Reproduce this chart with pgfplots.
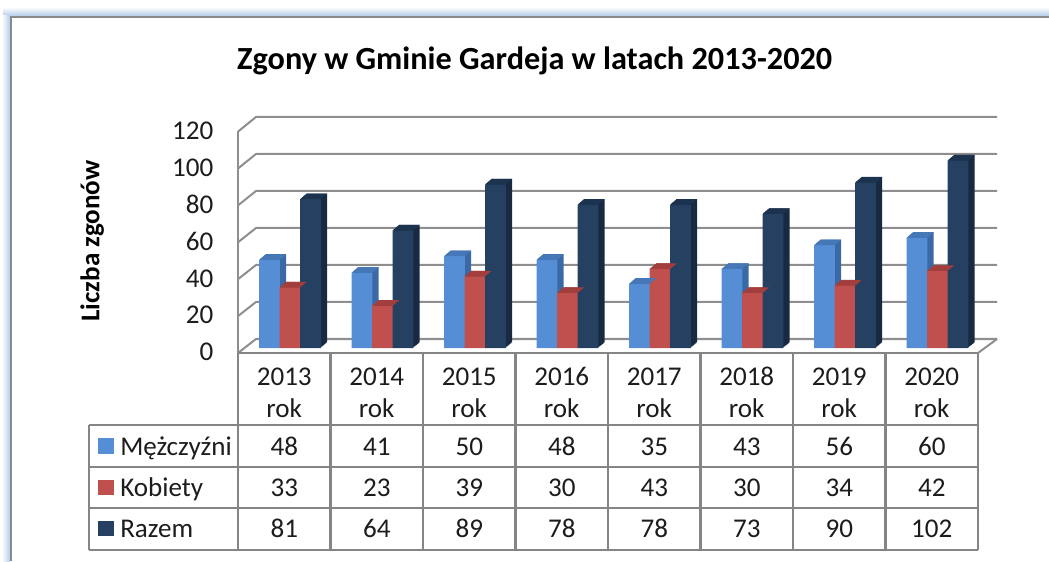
\documentclass[border=0pt]{standalone}
\usepackage{fontspec}
\setmainfont{Carlito}
\usepackage{pgfplots}
\usepackage{pgfplotstable}
\pgfplotsset{compat=1.18}

\definecolor{menF}{HTML}{558ED5}
\definecolor{menS}{HTML}{3A69A6}
\definecolor{menT}{HTML}{4678B8}
\definecolor{womF}{HTML}{C0504D}
\definecolor{womS}{HTML}{8F3634}
\definecolor{womT}{HTML}{A23E3B}
\definecolor{allF}{HTML}{254061}
\definecolor{allS}{HTML}{172A42}
\definecolor{allT}{HTML}{1C3350}
\definecolor{gridc}{HTML}{8E8E8E}
\definecolor{tabc}{HTML}{858585}
\definecolor{txt}{HTML}{1C1C1C}
\definecolor{glow}{HTML}{B4CCE8}
\definecolor{framec}{HTML}{8A8A8A}

\pgfplotstableread{
year men wom all
2013 48 33 81
2014 41 23 64
2015 50 39 89
2016 48 30 78
2017 35 43 78
2018 43 30 73
2019 56 34 90
2020 60 42 102
}\deaths

% top face of a bar, px = 0.75pt
\pgfdeclareplotmark{bartop}{%
  \pgfpathmoveto{\pgfqpoint{-7.69pt}{0pt}}%
  \pgfpathlineto{\pgfqpoint{7.69pt}{0pt}}%
  \pgfpathlineto{\pgfqpoint{12.5pt}{4.1pt}}%
  \pgfpathlineto{\pgfqpoint{-2.9pt}{4.1pt}}%
  \pgfpathclose
  \pgfusepathqfill
}

% series: column, shift, front, side, top
\newcommand{\barseries}[5]{%
  \pgfplotsinvokeforeach{1,2,3,4,5,6,7}{%
    \addplot[ybar, bar width=15.4pt, bar shift=#2pt, draw=none, fill=#4,
      xshift=##1*0.69pt, yshift=##1*0.59pt]
      table[x expr=\coordindex, y=#1] {\deaths};
  }
  \addplot[only marks, mark=bartop, mark options={fill=#5, draw=none, xshift=#2pt}]
    table[x expr=\coordindex, y=#1] {\deaths};
  \addplot[ybar, bar width=15.4pt, bar shift=#2pt, draw=none, fill=#3]
    table[x expr=\coordindex, y=#1] {\deaths};
}

\tikzset{cell/.style={text=txt, text height=13pt, text depth=0pt, font=\fontsize{20.3}{20}\selectfont}}

\begin{document}
\begin{tikzpicture}
\begin{scope}[x=0.75pt, y=-0.75pt, yshift=420.75pt]
  \path[use as bounding box] (0,0) rectangle (1049,561);
  % window frame
  \shade[top color=white, bottom color=glow] (3,7) rectangle (1049,16);
  \shade[left color=white, right color=glow] (2,16) rectangle (10,561);
  \draw[framec, line width=2pt] (1049,17) -- (11,17) -- (11,561);

  % walls and floor
  \foreach \v in {0,20,...,120} {
    \draw[gridc, line width=1.5pt]
      (238,{353-1.845*\v}) -- (256,{339-1.85*\v}) -- (997,{339-1.85*\v});
  }
  \draw[gridc, line width=1.5pt] (238,131) -- (238,353);
  \draw[gridc, line width=1.5pt] (997,339) -- (978,353);

  % table rules
  \draw[tabc, line width=1.7pt] (89,425) -- (978,425);
  \draw[tabc, line width=1.7pt] (89,467) -- (978,467);
  \draw[tabc, line width=1.7pt] (89,508) -- (978,508);
  \draw[tabc, line width=1.7pt] (89,550) -- (978,550);
  \draw[tabc, line width=1.7pt] (238,353) -- (978,353);
  \draw[tabc, line width=1.7pt] (89,425) -- (89,550);
  \foreach \i in {0,...,8} {
    \draw[tabc, line width=1.7pt] ({238+92.5*\i},353) -- ({238+92.5*\i},550);
  }

  % table row heads
  \fill[menF] (98,438) rectangle (114,454);
  \fill[womF] (98,480) rectangle (114,495);
  \fill[allF] (98,521) rectangle (114,536);
  \node[cell, anchor=west, inner sep=0pt] at (120,447) {Mężczyźni};
  \node[cell, anchor=west, inner sep=0pt] at (120,488) {Kobiety};
  \node[cell, anchor=west, inner sep=0pt] at (120,529) {Razem};

  % table values
  \foreach \i in {0,...,7} {
    \pgfplotstablegetelem{\i}{men}\of\deaths
    \node[cell] at ({284.25+92.5*\i},447) {\pgfplotsretval};
    \pgfplotstablegetelem{\i}{wom}\of\deaths
    \node[cell] at ({284.25+92.5*\i},488) {\pgfplotsretval};
    \pgfplotstablegetelem{\i}{all}\of\deaths
    \node[cell] at ({284.25+92.5*\i},529) {\pgfplotsretval};
  }
\end{scope}

\begin{axis}[
  at={(178.5pt,159.75pt)}, anchor=south west,
  scale only axis, width=555pt, height=165.5pt,
  xmin=-0.5, xmax=7.5, ymin=0, ymax=120,
  clip=false,
  axis x line=bottom, axis y line=left,
  axis line style={draw=none},
  x axis line style={-}, y axis line style={-},
  major tick length=0pt,
  xtick={0,...,7},
  xticklabels={\strut 2013\\\strut rok,\strut 2014\\\strut rok,\strut 2015\\\strut rok,\strut 2016\\\strut rok,\strut 2017\\\strut rok,\strut 2018\\\strut rok,\strut 2019\\\strut rok,\strut 2020\\\strut rok},
  xticklabel style={align=center, anchor=center, yshift=-35.5pt, text=txt,
    font=\fontsize{20.3}{24}\selectfont},
  ytick={0,20,...,120},
  yticklabel style={anchor=east, xshift=-15pt, yshift=-3pt, text=txt,
    text height=13pt, text depth=0pt,
    font=\fontsize{20.3}{20}\selectfont, /pgf/number format/assume math mode=true},
  every axis title shift=0pt,
  title={Zgony w Gminie Gardeja w latach 2013-2020},
  title style={at={(axis description cs:0.401,1.300)}, anchor=center, text=black,
    font=\bfseries\fontsize{24.2}{26}\selectfont},
  ylabel={Liczba zgonów},
  every axis y label/.style={at={(axis description cs:-0.197,0.485)}, rotate=90,
    anchor=center, text=black, font=\bfseries\fontsize{20.3}{22}\selectfont},
]
\barseries{men}{-11.06}{menF}{menS}{menT}
\barseries{wom}{4.31}{womF}{womS}{womT}
\barseries{all}{19.69}{allF}{allS}{allT}
\end{axis}
\end{tikzpicture}
\end{document}
